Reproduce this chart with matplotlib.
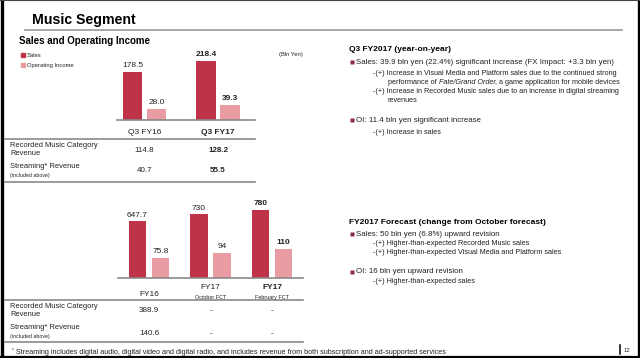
import matplotlib
matplotlib.use("Agg")
import matplotlib.pyplot as plt

plt.rcParams['font.family'] = ['Liberation Sans', 'DejaVu Sans']

# quarter chart
q_categories = ["Q3 FY16", "Q3 FY17"]
q_sales = [178.5, 218.4]
q_oi = [28.0, 39.3]
q_recorded = ["114.8", "128.2"]
q_streaming = ["40.7", "55.5"]

# full-year chart
fy_categories = ["FY16", "FY17", "FY17"]
fy_subtitles = ["", "October FCT", "February FCT"]
fy_sales = [647.7, 730, 780]
fy_oi = [75.8, 94, 110]
fy_recorded = ["388.9", "-", "-"]
fy_streaming = ["140.6", "-", "-"]

q3_bullets = [
    ("Sales: 39.9 bln yen (22.4%) significant increase (FX Impact: +3.3 bln yen)", [
        "-(+) Increase in Visual Media and Platform sales due to the continued strong",
        None,  # italic line handled below
        "-(+) Increase in Recorded Music sales due to an increase in digital streaming",
        "revenues"]),
    ("OI: 11.4 bln yen significant increase", ["-(+) Increase in sales"]),
]
fct_bullets = [
    ("Sales: 50 bln yen (6.8%) upward revision", [
        "-(+) Higher-than-expected Recorded Music sales",
        "-(+) Higher-than-expected Visual Media and Platform sales"]),
    ("OI: 16 bln yen upward revision", ["-(+) Higher-than-expected sales"]),
]

SALES_COLOR = "#BE3348"
OI_COLOR = "#E99CA4"
BULLET_COLOR = "#8C2A45"
LINE_GRAY = "#8a8a8a"
TXT = "#222222"

W, H = 640, 358
fig = plt.figure(figsize=(W / 100, H / 100), dpi=100)
bg = fig.add_axes([0, 0, 1, 1])
bg.set_xlim(0, W)
bg.set_ylim(H, 0)
bg.axis("off")


def px_axes(x0, y0, x1, y1):
    return fig.add_axes([x0 / W, (H - y1) / H, (x1 - x0) / W, (y1 - y0) / H])


def bar_chart(rect, sales, oi, s_top, o_top, offset, width, xlim, fmt):
    ax = px_axes(*rect)
    ax2 = ax.twinx()
    n = len(sales)
    xs = list(range(n))
    ax.bar([x - offset for x in xs], sales, width, color=SALES_COLOR)
    ax2.bar([x + offset for x in xs], oi, width, color=OI_COLOR)
    ax.set_ylim(0, s_top)
    ax2.set_ylim(0, o_top)
    for a in (ax, ax2):
        a.set_xlim(*xlim)
        a.patch.set_visible(False)
        a.set_xticks([])
        a.set_yticks([])
        for sp in a.spines.values():
            sp.set_visible(False)
    ax.spines["bottom"].set_visible(True)
    ax.spines["bottom"].set_color(LINE_GRAY)
    ax.spines["bottom"].set_linewidth(1.2)
    ax.set_zorder(2)
    ax2.set_zorder(1)
    for i in xs:
        w = "bold" if i == n - 1 else "normal"
        ax.annotate(fmt(sales[i]), (i - offset, sales[i]), xytext=(0, 2),
                    textcoords="offset points", ha="center", va="bottom",
                    fontsize=6, fontweight=w, color=TXT)
        ax2.annotate(fmt(oi[i]), (i + offset, oi[i]), xytext=(0, 2),
                     textcoords="offset points", ha="center", va="bottom",
                     fontsize=6, fontweight=w, color=TXT)
    return ax


def below(ax, x, px, s, size, weight="normal"):
    ax.annotate(s, (x, 0), xycoords=("data", "axes fraction"),
                xytext=(0, -px * 0.72), textcoords="offset points",
                ha="center", va="center", fontsize=size, fontweight=weight,
                color=TXT, annotation_clip=False)


# frame
bg.plot([1.5, 1.5], [0, H], color="black", lw=2.4)
bg.plot([638.5, 638.5], [0, H], color="black", lw=2.4)
bg.plot([0, W], [357, 357], color="black", lw=1.6)
bg.plot([0, W], [0.4, 0.4], color="#444444", lw=0.8)

# titles
bg.text(32, 20, "Music Segment", fontsize=10.2, fontweight="bold", va="center", color="black")
bg.plot([25, 622], [29.5, 29.5], color="#9a9a9a", lw=1.2)
bg.text(19, 41.5, "Sales and Operating Income", fontsize=7, fontweight="bold", va="center", color="black")

# legend
bg.add_patch(plt.Rectangle((20.5, 53.3), 4, 4, color=SALES_COLOR))
bg.add_patch(plt.Rectangle((20.5, 62.7), 4, 4, color=OI_COLOR))
bg.text(27, 55.5, "Sales", fontsize=4.2, va="center", color=TXT)
bg.text(27, 65, "Operating Income", fontsize=4.2, va="center", color=TXT)
bg.text(279, 54.5, "(Bln Yen)", fontsize=4.2, va="center", color=TXT)

# top chart
ax_q = bar_chart((117, 45, 255, 120), q_sales, q_oi, 277, 192, 0.163, 0.26,
                 (-0.374, 1.503), lambda v: f"{v:.1f}")
for i, c in enumerate(q_categories):
    w = "bold" if i == len(q_categories) - 1 else "normal"
    below(ax_q, i, 12, c, 6, w)
    below(ax_q, i, 30, q_recorded[i], 5.8, w)
    below(ax_q, i, 50, q_streaming[i], 5.8, w)

bg.plot([5, 255], [138.8, 138.8], color=LINE_GRAY, lw=1.2)
bg.plot([5, 255], [181.8, 181.8], color=LINE_GRAY, lw=1.2)
bg.text(10, 145.5, "Recorded Music Category", fontsize=5.4, va="center", color=TXT)
bg.text(10, 153.3, "Revenue", fontsize=5.4, va="center", color=TXT)
bg.text(10, 166.5, "Streaming* Revenue", fontsize=5.4, va="center", color=TXT)
bg.text(10, 175.8, "(included above)", fontsize=3.8, va="center", color=TXT)

# bottom chart
ax_f = bar_chart((118, 195, 303, 277.7), fy_sales, fy_oi, 953, 314, 0.187, 0.29,
                 (-0.504, 2.504), lambda v: f"{v:g}")
for i, c in enumerate(fy_categories):
    w = "bold" if i == len(fy_categories) - 1 else "normal"
    if fy_subtitles[i]:
        below(ax_f, i, 10, c, 6, w)
        below(ax_f, i, 19.6, fy_subtitles[i], 3.9)
    else:
        below(ax_f, i, 17.3, c, 6, w)
    below(ax_f, i, 33, fy_recorded[i], 5.8)
    below(ax_f, i, 55.6, fy_streaming[i], 5.8)

bg.plot([5, 303], [300, 300], color=LINE_GRAY, lw=1.2)
bg.plot([5, 303], [342.3, 342.3], color=LINE_GRAY, lw=1.2)
bg.text(10, 306.7, "Recorded Music Category", fontsize=5.4, va="center", color=TXT)
bg.text(10, 314.3, "Revenue", fontsize=5.4, va="center", color=TXT)
bg.text(10, 327.7, "Streaming* Revenue", fontsize=5.4, va="center", color=TXT)
bg.text(10, 336.7, "(included above)", fontsize=3.8, va="center", color=TXT)

# footnote and page number
bg.text(12, 350, "*", fontsize=3.5, va="center", color=TXT)
bg.text(15.5, 352, "Streaming includes digital audio, digital video and digital radio, and includes "
        "revenue from both subscription and ad-supported services", fontsize=5.2, va="center", color=TXT)
bg.plot([619.5, 619.5], [344.5, 353.5], color="black", lw=1.1)
bg.text(624, 350.5, "12", fontsize=4.2, va="center", color=TXT)

MAIN = 5.7
SUB = 5.2


def bullet(y, s):
    bg.plot([351.5], [y], marker="s", markersize=2.2, color=BULLET_COLOR, mec="none")
    bg.text(355.5, y, s, fontsize=MAIN, va="center", color=TXT)


def sub(x, y, s):
    return bg.text(x, y, s, fontsize=SUB, va="center", color=TXT)


# right side, Q3
bg.text(349, 49.5, "Q3 FY2017 (year-on-year)", fontsize=6, fontweight="bold", va="center", color="black")
bullet(62.3, q3_bullets[0][0])
sub(373, 73.3, q3_bullets[0][1][0])
t1 = bg.text(388, 84.5, "performance of ", fontsize=SUB, va="baseline", color=TXT)
t2 = bg.annotate("Fate/Grand Order", xy=(1, 0), xycoords=t1, fontsize=SUB, style="italic",
                 va="bottom", ha="left", color=TXT)
bg.annotate(", a game application for mobile devices", xy=(1, 0), xycoords=t2, fontsize=SUB,
            va="bottom", ha="left", color=TXT)
sub(373, 91.2, q3_bullets[0][1][2])
sub(388, 100, q3_bullets[0][1][3])
bullet(120, q3_bullets[1][0])
sub(373, 132.7, q3_bullets[1][1][0])

# right side, forecast
bg.text(349, 222.7, "FY2017 Forecast (change from October forecast)", fontsize=6, fontweight="bold",
        va="center", color="black")
bullet(234, fct_bullets[0][0])
sub(373, 243.3, fct_bullets[0][1][0])
sub(373, 252.3, fct_bullets[0][1][1])
bullet(271.7, fct_bullets[1][0])
sub(373, 281.7, fct_bullets[1][1][0])

fig.savefig("out.png", dpi=100, facecolor="white")
